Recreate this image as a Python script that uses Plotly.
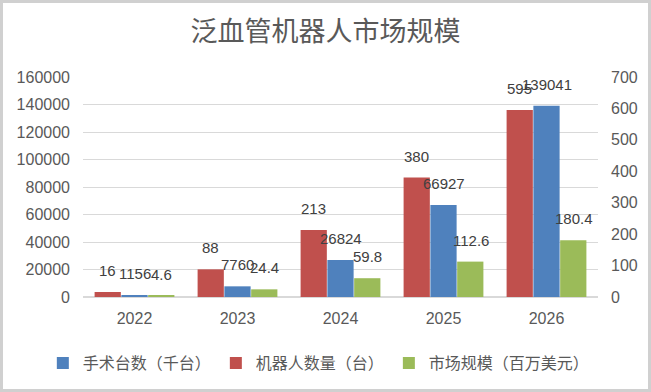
import plotly.graph_objects as go

years = ["2022", "2023", "2024", "2025", "2026"]
surgeries = [1156, 7760, 26824, 66927, 139041]      # 手术台数（千台） left axis
robots = [16, 88, 213, 380, 595]                    # 机器人数量（台） right axis
market = [4.6, 24.4, 59.8, 112.6, 180.4]            # 市场规模（百万美元） right axis

left_ticks = [0, 20000, 40000, 60000, 80000, 100000, 120000, 140000, 160000]
right_ticks = [0, 100, 200, 300, 400, 500, 600, 700]

label_font = dict(family="Liberation Sans, Arial, sans-serif", size=15, color="#404040")
tick_font = dict(family="Liberation Sans, Arial, sans-serif", size=16, color="#595959")

# (name, values, axis, offset group, colour, legend rank, pixel shift of label within group)
series = [
    ("机器人数量（台）", robots, "y2", "a", "#c0504d", 2, -27),
    ("手术台数（千台）", surgeries, "y", "b", "#4f81bd", 1, 0),
    ("市场规模（百万美元）", market, "y2", "c", "#9bbb59", 3, 27),
]

fig = go.Figure()
annotations = []
for name, vals, axis, grp, color, rank, shift in series:
    fig.add_trace(go.Bar(
        x=years, y=vals, name=name, yaxis=axis, offsetgroup=grp,
        marker=dict(color=color, line=dict(width=0)), legendrank=rank,
    ))
    for i, v in enumerate(vals):
        annotations.append(dict(
            x=i, y=v, xref="x", yref=axis, text=str(v), showarrow=False,
            xanchor="center", yanchor="bottom", xshift=shift, yshift=11,
            font=label_font,
        ))

fig.update_layout(
    width=651, height=392,
    margin=dict(l=83, r=53, t=77, b=95, autoexpand=False),
    paper_bgcolor="white", plot_bgcolor="white",
    barmode="group", bargap=0.22, bargroupgap=0.02,
    title=dict(text="泛血管机器人市场规模", x=0.5, xanchor="center", y=0.92, yanchor="middle",
               font=dict(family="Noto Sans CJK SC", size=27, color="#595959")),
    xaxis=dict(type="category", tickfont=tick_font, showgrid=False, showline=False,
               ticks="", ticklabelstandoff=10, automargin=False),
    yaxis=dict(range=[0, 160000], tickvals=left_ticks, ticktext=[str(v) for v in left_ticks],
               tickfont=tick_font, showgrid=True, gridcolor="#d9d9d9", gridwidth=1,
               zeroline=True, zerolinecolor="#d9d9d9", showline=False, ticks="",
               ticklabelstandoff=12, automargin=False),
    yaxis2=dict(range=[0, 700], tickvals=right_ticks, ticktext=[str(v) for v in right_ticks],
                overlaying="y", side="right", tickfont=tick_font, showgrid=False,
                zeroline=False, showline=False, ticks="", ticklabelstandoff=12,
                automargin=False),
    legend=dict(orientation="h", x=-0.078, xanchor="left", y=-0.3, yanchor="middle",
                font=dict(family="Noto Sans CJK SC", size=16, color="#595959"),
                itemwidth=30, tracegroupgap=0),
    showlegend=True,
    annotations=annotations,
    shapes=[dict(type="rect", xref="paper", yref="paper",
                 x0=(1.5 - 83) / 515, x1=(649.5 - 83) / 515,
                 y0=(297 - 390.5) / 220, y1=(297 - 1.5) / 220,
                 line=dict(color="#d0d0d0", width=3), fillcolor="rgba(0,0,0,0)", layer="below")],
)

fig.write_html("out.html", config={"displayModeBar": False},
               post_script="document.body.style.margin='0';")
